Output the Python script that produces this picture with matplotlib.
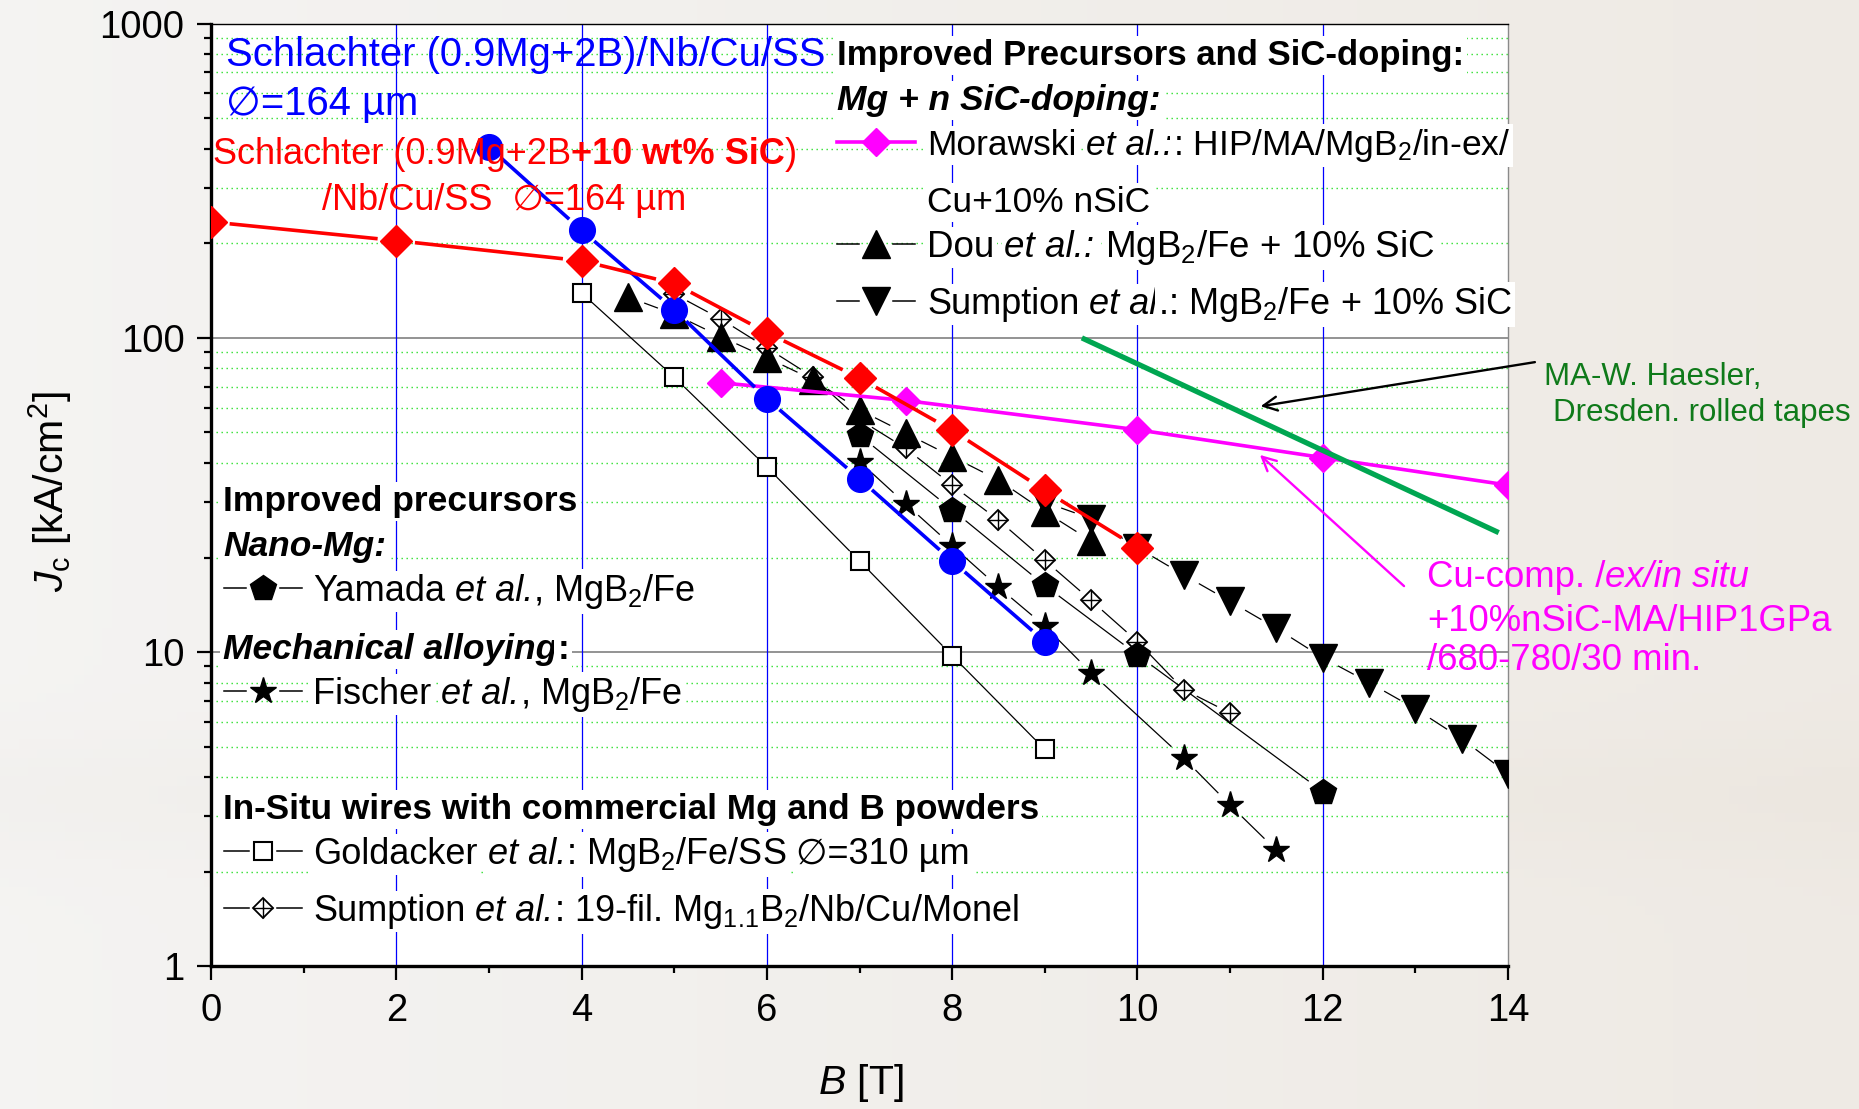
import numpy as np
import matplotlib
matplotlib.use("Agg")
import matplotlib.pyplot as plt
from matplotlib.lines import Line2D

# ---------------------------------------------------------------- data
# Schlachter (0.9Mg+2B)/Nb/Cu/SS
b_schl = [3, 4, 5, 6, 7, 8, 9]
jc_schl = [405, 220, 123, 64, 35.6, 19.5, 10.8]
# Schlachter (0.9Mg+2B+10 wt% SiC)/Nb/Cu/SS
b_schl_sic = [0, 2, 4, 5, 6, 7, 8, 9, 10]
jc_schl_sic = [234, 204, 176, 149, 104, 74.5, 50.8, 32.7, 21.5]
# Morawski et al.: HIP/MA/MgB2/in-ex/Cu+10% nSiC
b_mor = [5.5, 7.5, 10, 12, 14]
jc_mor = [72, 63.2, 51, 41.6, 34]
# MA-W. Haesler, Dresden rolled tapes
b_hae = [9.4, 13.9]
jc_hae = [100, 24]
# Dou et al.: MgB2/Fe + 10% SiC
b_dou = [4.5, 5, 5.5, 6, 6.5, 7, 7.5, 8, 8.5, 9, 9.5]
jc_dou = [135, 119, 101, 86.5, 73.6, 59, 49.7, 41.9, 35.3, 28, 22.6]
# Sumption et al.: MgB2/Fe + 10% SiC
b_sum = [9, 9.5, 10, 10.5, 11, 11.5, 12, 12.5, 13, 13.5, 14]
jc_sum = [30, 26.6, 21.5, 17.6, 14.5, 11.9, 9.6, 8.0, 6.6, 5.3, 4.1]
# Yamada et al., MgB2/Fe
b_yam = [7, 8, 9, 10, 12]
jc_yam = [49, 28.4, 16.3, 9.8, 3.6]
# Fischer et al., MgB2/Fe
b_fis = [7, 7.5, 8, 8.5, 9, 9.5, 10.5, 11, 11.5]
jc_fis = [40.4, 29.6, 21.8, 16.1, 12.1, 8.6, 4.6, 3.26, 2.34]
# Goldacker et al.: MgB2/Fe/SS
b_gol = [4, 5, 6, 7, 8, 9]
jc_gol = [139, 75, 38.8, 19.5, 9.75, 4.9]
# Sumption et al.: 19-fil. Mg1.1B2/Nb/Cu/Monel
b_s19 = [5, 5.5, 6, 6.5, 7, 7.5, 8, 8.5, 9, 9.5, 10, 10.5, 11]
jc_s19 = [138, 115, 93, 75, 55, 44.5, 34, 26.3, 19.6, 14.6, 10.8, 7.6, 6.4]

x_major = [0, 2, 4, 6, 8, 10, 12, 14]
x_minor = [1, 3, 5, 7, 9, 11, 13]
y_major = [1, 10, 100, 1000]
y_major_labels = ["1", "10", "100", "1000"]

# ---------------------------------------------------------------- setup
W, H, DPI = 1859, 1109, 100
FAM = ["Liberation Sans", "DejaVu Sans"]
plt.rcParams["font.family"] = FAM
plt.rcParams["mathtext.fontset"] = "custom"
plt.rcParams["mathtext.rm"] = "Liberation Sans"
plt.rcParams["mathtext.it"] = "Liberation Sans:italic"
plt.rcParams["mathtext.bf"] = "Liberation Sans:bold"

fig = plt.figure(figsize=(W / DPI, H / DPI), dpi=DPI)

# soft grey-beige backdrop
bg = fig.add_axes([0, 0, 1, 1], zorder=-10)
gx = np.linspace(0, 1, 200)[None, :, None]
gy = np.linspace(0, 1, 120)[:, None, None]
left_c = np.array([0.958, 0.955, 0.950])
right_c = np.array([0.935, 0.918, 0.895])
img = left_c * (1 - gx) + right_c * gx
img = img - 0.012 * np.exp(-((gy - 0.72) / 0.06) ** 2) * np.array([0.6, 0.9, 1.3])
img = np.clip(img, 0, 1)
bg.imshow(img, aspect="auto", extent=[0, 1, 0, 1])
bg.axis("off")

ax = fig.add_axes([211 / W, 1 - 966.3 / H, 1297 / W, (966.3 - 23.7) / H])
ax.set_facecolor("white")
ax.set_yscale("log")
ax.set_xlim(0, 14)
ax.set_ylim(1, 1000)

# grid
for b in x_major[1:-1]:
    ax.axvline(b, color="#0000ff", lw=0.9, zorder=1.2)
for dec in [1, 10, 100]:
    for m in range(2, 10):
        ax.axhline(dec * m, color="#2ee02e", lw=1.0, ls=(0, (1, 2.6)), zorder=1.0)
for j in [10, 100]:
    ax.axhline(j, color="#8a8a8a", lw=1.3, zorder=1.1)

# ticks and spines
ax.set_xticks(x_major)
ax.set_xticks(x_minor, minor=True)
ax.set_yticks(y_major)
ax.set_yticklabels(y_major_labels)
ax.set_yticks([d * m for d in [1, 10, 100] for m in range(2, 10)], minor=True)
ax.yaxis.set_minor_formatter(matplotlib.ticker.NullFormatter())
ax.tick_params(which="major", direction="out", length=10, width=1.6, labelsize=27.5, pad=9)
ax.tick_params(which="minor", direction="out", length=5, width=1.6)
ax.spines["left"].set_linewidth(2.4)
ax.spines["bottom"].set_linewidth(2.4)
ax.spines["top"].set_linewidth(1.0)
ax.spines["right"].set_linewidth(1.0)
ax.spines["right"].set_color("#8a8a8a")


def gapped(x, y, gap_pt, **kw):
    """Connect points with straight segments that stop short of the markers."""
    tr = ax.transData
    inv = tr.inverted()
    pts = tr.transform(np.column_stack([x, y]))
    g = gap_pt * DPI / 72.0
    for p0, p1 in zip(pts[:-1], pts[1:]):
        d = p1 - p0
        L = np.hypot(*d)
        if L <= 2 * g:
            continue
        u = d / L
        seg = inv.transform(np.vstack([p0 + u * g, p1 - u * g]))
        ax.plot(seg[:, 0], seg[:, 1], solid_capstyle="butt", **kw)


blk = dict(color="black", lw=0.9)
# Goldacker
gapped(b_gol, jc_gol, 10, zorder=3, **blk)
ax.plot(b_gol, jc_gol, ls="none", marker="s", ms=13, mfc="white", mec="black", mew=1.5, zorder=3.1)
# Sumption 19-fil
gapped(b_s19, jc_s19, 10.5, zorder=3, **blk)
ax.plot(b_s19, jc_s19, ls="none", marker="D", ms=10, mfc="white", mec="black", mew=1.3, zorder=3.2)
ax.plot(b_s19, jc_s19, ls="none", marker="+", ms=14, mec="black", mew=1.0, zorder=3.3)
# Yamada
gapped(b_yam, jc_yam, 12.5, zorder=3, **blk)
ax.plot(b_yam, jc_yam, ls="none", marker="p", ms=19, color="black", zorder=3.4)
# Fischer
gapped(b_fis, jc_fis, 12, zorder=3, **blk)
ax.plot(b_fis, jc_fis, ls="none", marker="*", ms=20, color="black", zorder=3.5)
# Dou
gapped(b_dou, jc_dou, 12.5, zorder=3, **blk)
ax.plot(b_dou, jc_dou, ls="none", marker="^", ms=19.5, color="black", zorder=3.6)
# Sumption Fe + SiC
gapped(b_sum, jc_sum, 12.5, zorder=3, **blk)
ax.plot(b_sum, jc_sum, ls="none", marker="v", ms=19.5, color="black", zorder=3.7)

# Morawski
ax.plot(b_mor, jc_mor, color="#ff00ff", lw=2.6, marker="D", ms=14, zorder=4)
# Schlachter plain
gapped(b_schl, jc_schl, 12, color="#0000ff", lw=2.6, zorder=4.1)
ax.plot(b_schl, jc_schl, ls="none", marker="o", ms=18.5, color="#0000ff", zorder=4.2)
# Schlachter SiC
gapped(b_schl_sic, jc_schl_sic, 13.5, color="#ff0000", lw=2.6, zorder=4.3)
ax.plot(b_schl_sic, jc_schl_sic, ls="none", marker="D", ms=16, color="#ff0000", zorder=4.4)
# Haesler
ax.plot(b_hae, jc_hae, color="#00a651", lw=3.8, solid_capstyle="butt", zorder=4.6)

# arrows to the Haesler and Morawski curves
ax.annotate("", xy=(11.3, 60.4), xytext=(14.32, 84), annotation_clip=False,
            arrowprops=dict(arrowstyle="->,head_length=1.0,head_width=0.5", color="black", lw=1.7))
ax.annotate("", xy=(11.3, 43), xytext=(12.9, 16), annotation_clip=False,
            arrowprops=dict(arrowstyle="->,head_length=1.0,head_width=0.5", color="#ff00ff", lw=1.7))

# ---------------------------------------------------------------- text
renderer = fig.canvas.get_renderer()
WHITE = dict(boxstyle="square,pad=0.08", fc="white", ec="none")


def runs(x, y, parts, size, color="black", box=False, z=6):
    """Write a line built from differently styled pieces; x, y in pixels (baseline)."""
    cur = x
    sp = 0.278 * size * DPI / 72.0
    for s, wt, st in parts:
        cur += (len(s) - len(s.lstrip(" "))) * sp
        core = s.strip(" ")
        t = fig.text(cur / W, 1 - y / H, core, fontsize=size, color=color,
                     fontweight=wt, fontstyle=st, va="baseline", ha="left", zorder=z)
        if box:
            t.set_bbox(WHITE)
        cur += t.get_window_extent(renderer).width
        cur += (len(s) - len(s.rstrip(" "))) * sp


def sample(xc, yc, half, gap, line_kw, mk_kw):
    if gap:
        for a, b in [(xc - half, xc - gap), (xc + gap, xc + half)]:
            fig.add_artist(Line2D([a / W, b / W], [1 - yc / H] * 2, zorder=6, **line_kw))
    else:
        fig.add_artist(Line2D([(xc - half) / W, (xc + half) / W], [1 - yc / H] * 2, zorder=6, **line_kw))
    for kw in mk_kw:
        fig.add_artist(Line2D([xc / W], [1 - yc / H], ls="none", zorder=6.1, **kw))


N, B, I = "normal", "bold", "italic"
FS = 26

# Schlachter labels
runs(226, 66, [("Schlachter (0.9Mg+2B)/Nb/Cu/SS", N, N)], 28.8, color="#0000ff")
runs(226, 115, [("∅=164 µm", N, N)], 28.8, color="#0000ff")
runs(213, 164, [("Schlachter (0.9Mg+2B", N, N), ("+10 wt% SiC", B, N), (")", N, N)], 26, color="#ff0000")
runs(322, 210, [("/Nb/Cu/SS  ∅=164 µm", N, N)], 26, color="#ff0000")

# upper-right legend block
runs(837, 65, [("Improved Precursors and SiC-doping:", B, N)], 25, box=True)
runs(837, 110, [("Mg + n SiC-doping:", B, I)], 25.5, box=True)
runs(927, 155, [("Morawski ", N, N), ("et al.:", N, I), (": HIP/MA/MgB$_2$/in-ex/", N, N)], 25.5, box=True)
runs(927, 212, [("Cu+10% nSiC", N, N)], 25.5, box=True)
runs(927, 257, [("Dou ", N, N), ("et al.:", N, I), (" MgB$_2$/Fe + 10% SiC", N, N)], 26.5, box=True)
runs(927, 314, [("Sumption ", N, N), ("et al", N, I), (".: MgB$_2$/Fe + 10% SiC", N, N)], 26, box=True)
sample(876, 142, 39, 0, dict(color="#ff00ff", lw=2.6),
       [dict(marker="D", ms=14, color="#ff00ff")])
sample(876, 244, 39, 17, dict(color="black", lw=1.1),
       [dict(marker="^", ms=19.5, color="black")])
sample(876, 301, 39, 17, dict(color="black", lw=1.1),
       [dict(marker="v", ms=19.5, color="black")])

# left legend block
runs(223, 511, [("Improved precursors", B, N)], 25.5, box=True)
runs(223, 556, [("Nano-Mg:", B, I)], 25.5, box=True)
runs(313, 601, [("Yamada ", N, N), ("et al.", N, I), (", MgB$_2$/Fe", N, N)], FS, box=True)
runs(223, 659, [("Mechanical alloying", B, I), (":", B, N)], 25.5, box=True)
runs(313, 704, [("Fischer ", N, N), ("et al.", N, I), (", MgB$_2$/Fe", N, N)], FS, box=True)
runs(223, 819, [("In-Situ wires with commercial Mg and B powders", B, N)], 25.3, box=True)
runs(313, 864, [("Goldacker ", N, N), ("et al.", N, I), (": MgB$_2$/Fe/SS", N, N), (" ∅=310 µm", N, N)], FS, box=True)
runs(313, 921, [("Sumption ", N, N), ("et al.", N, I), (": 19-fil. Mg$_{1.1}$B$_2$/Nb/Cu/Monel", N, N)], FS, box=True)
sample(263, 588, 39, 17, dict(color="black", lw=1.1), [dict(marker="p", ms=19, color="black")])
sample(263, 691, 39, 17, dict(color="black", lw=1.1), [dict(marker="*", ms=20, color="black")])
sample(263, 851, 39, 14, dict(color="black", lw=1.1),
       [dict(marker="s", ms=13, mfc="white", mec="black", mew=1.5)])
sample(263, 908, 39, 14, dict(color="black", lw=1.1),
       [dict(marker="D", ms=10, mfc="white", mec="black", mew=1.3),
        dict(marker="+", ms=14, mec="black", mew=1.0)])

# annotations at the right
runs(1544, 385, [("MA-W. Haesler,", N, N)], 22.5, color="#0f7a1a")
runs(1553, 421, [("Dresden. rolled tapes", N, N)], 22.5, color="#0f7a1a")
runs(1427, 587, [("Cu-comp. /", N, N), ("ex/in situ", N, I)], 26.3, color="#ff00ff")
runs(1427, 631, [("+10%nSiC-MA/HIP1GPa", N, N)], 26.3, color="#ff00ff")
runs(1427, 670, [("/680-780/30 min.", N, N)], 26.3, color="#ff00ff")

# axis titles
fig.text(50 / W, 1 - 492 / H, r"$J_{\mathrm{c}}$ [kA/cm$^2$]", rotation=90,
         fontsize=29.5, ha="center", va="center")
fig.text(861 / W, 1 - 1094 / H, r"$B$ [T]", fontsize=29.5, ha="center", va="baseline")

fig.savefig("out.png", dpi=DPI)
